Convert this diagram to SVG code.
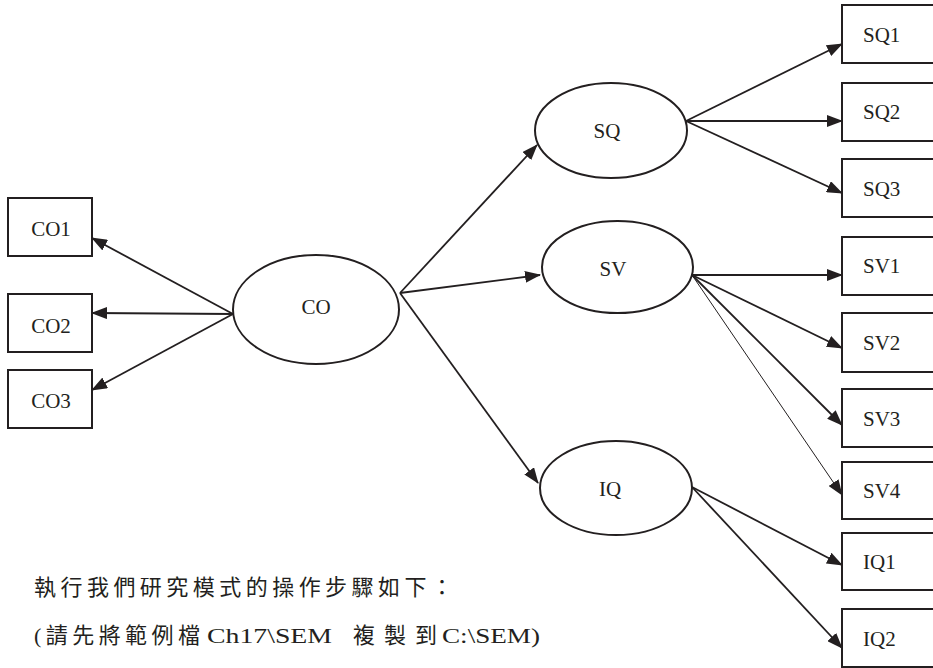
<svg xmlns="http://www.w3.org/2000/svg" width="933" height="668" viewBox="0 0 933 668">
<style>
.box{fill:#fff;stroke:#231f20;stroke-width:2}
.ell{fill:#fff;stroke:#231f20;stroke-width:2}
.lbl{font-family:"Liberation Serif","Times New Roman",serif;font-size:21px;fill:#231f20}
.c{text-anchor:middle}
.edge{stroke:#231f20;stroke-width:1.8;fill:none;marker-end:url(#ah)}
.thin{stroke-width:1}
.note{font-family:"Liberation Serif","Noto Sans CJK TC",serif;font-size:22px;fill:#231f20}
</style>
<defs>
<marker id="ah" markerUnits="userSpaceOnUse" markerWidth="16" markerHeight="12" refX="15" refY="6" orient="auto">
<path d="M0,0 L16,6 L0,12 z" fill="#231f20"/>
</marker>
</defs>
<rect width="933" height="668" fill="#fff"/>
<g id="connectors">
<line class="edge" x1="233" y1="314" x2="92" y2="238"/>
<line class="edge" x1="233" y1="314" x2="92" y2="313"/>
<line class="edge" x1="233" y1="314" x2="92" y2="390"/>
<line class="edge" x1="400" y1="293" x2="537" y2="145"/>
<line class="edge" x1="400" y1="293" x2="540" y2="275"/>
<line class="edge" x1="400" y1="293" x2="538" y2="483"/>
<line class="edge" x1="686" y1="121" x2="842" y2="44"/>
<line class="edge" x1="686" y1="121" x2="842" y2="121"/>
<line class="edge" x1="686" y1="121" x2="842" y2="193"/>
<line class="edge" x1="692" y1="275" x2="842" y2="275"/>
<line class="edge" x1="692" y1="275" x2="842" y2="348"/>
<line class="edge" x1="692" y1="275" x2="842" y2="425"/>
<line class="edge thin" x1="692" y1="275" x2="842" y2="495"/>
<line class="edge" x1="692" y1="487" x2="842" y2="565"/>
<line class="edge" x1="692" y1="487" x2="842" y2="648"/>
</g>
<g id="CO1"><rect class="box" x="8" y="198" width="84" height="58"/><text class="lbl c" x="51" y="236">CO1</text></g>
<g id="CO2"><rect class="box" x="8" y="294" width="84" height="58"/><text class="lbl c" x="51" y="333">CO2</text></g>
<g id="CO3"><rect class="box" x="8" y="370" width="84" height="58"/><text class="lbl c" x="51" y="408">CO3</text></g>
<g id="CO"><ellipse class="ell" cx="316" cy="309.5" rx="83" ry="54.5"/><text class="lbl c" x="316" y="314">CO</text></g>
<g id="SQ"><ellipse class="ell" cx="611" cy="130.5" rx="76" ry="47.5"/><text class="lbl c" x="607" y="138">SQ</text></g>
<g id="SV"><ellipse class="ell" cx="617.5" cy="267" rx="75.5" ry="46"/><text class="lbl c" x="613" y="276">SV</text></g>
<g id="IQ"><ellipse class="ell" cx="616" cy="488" rx="76" ry="47"/><text class="lbl c" x="610" y="496">IQ</text></g>
<g id="SQ1"><rect class="box" x="842" y="5" width="100" height="58"/><text class="lbl" x="863" y="42">SQ1</text></g>
<g id="SQ2"><rect class="box" x="842" y="83" width="100" height="58"/><text class="lbl" x="863" y="119">SQ2</text></g>
<g id="SQ3"><rect class="box" x="842" y="159" width="100" height="58"/><text class="lbl" x="863" y="196">SQ3</text></g>
<g id="SV1"><rect class="box" x="842" y="237" width="100" height="58"/><text class="lbl" x="863" y="273">SV1</text></g>
<g id="SV2"><rect class="box" x="842" y="313" width="100" height="59"/><text class="lbl" x="863" y="350">SV2</text></g>
<g id="SV3"><rect class="box" x="842" y="389" width="100" height="58"/><text class="lbl" x="863" y="426">SV3</text></g>
<g id="SV4"><rect class="box" x="842" y="462" width="100" height="57"/><text class="lbl" x="863" y="498">SV4</text></g>
<g id="IQ1"><rect class="box" x="842" y="533" width="100" height="57"/><text class="lbl" x="863" y="569">IQ1</text></g>
<g id="IQ2"><rect class="box" x="842" y="609" width="100" height="58"/><text class="lbl" x="863" y="646">IQ2</text></g>
<g id="note">
<text class="note" x="34" y="595" textLength="419" lengthAdjust="spacing">執行我們研究模式的操作步驟如下：</text>
<text class="note" x="34" y="643" textLength="166" lengthAdjust="spacing">(請先將範例檔</text>
<text class="note" x="207" y="643" font-size="25" textLength="125" lengthAdjust="spacingAndGlyphs">Ch17\SEM</text>
<text class="note" x="353" y="643" textLength="84" lengthAdjust="spacing">複製到</text>
<text class="note" x="442" y="643" font-size="25" textLength="98" lengthAdjust="spacingAndGlyphs">C:\SEM)</text>
</g>
</svg>
